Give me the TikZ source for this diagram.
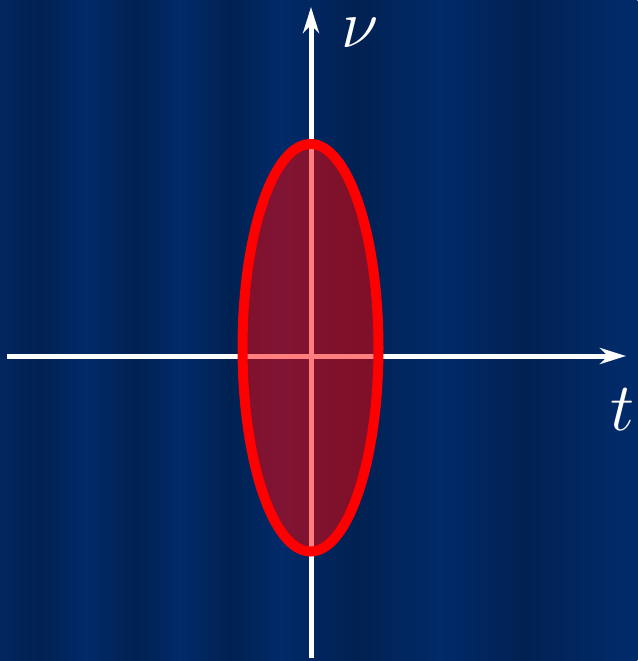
\RequirePackage{fix-cm}
\documentclass[tikz,border=0pt]{standalone}
\usetikzlibrary{arrows.meta}
\definecolor{bglight}{HTML}{012A69}
\definecolor{bgdark}{HTML}{012152}
\definecolor{bgmid}{HTML}{01265F}
\begin{document}
\begin{tikzpicture}[x=1pt,y=-1pt,
  axis/.style={white, line width=5pt, -{Stealth[length=26pt,width=16pt,inset=8pt]}},
  lbl/.style={white, inner sep=0pt, font=\fontsize{68}{80}\selectfont}]
\useasboundingbox (0,0) rectangle (637,661);
\fill[bgmid] (0,0) rectangle (637,661);
\foreach \xa/\ca/\xb/\cb in {0/bgmid/40/bgdark, 40/bgdark/85/bglight, 85/bglight/135/bgdark,
  135/bgdark/180/bglight, 180/bglight/230/bgdark, 230/bgdark/280/bglight,
  280/bglight/357/bgdark, 357/bgdark/440/bglight, 440/bglight/525/bgdark,
  525/bgdark/620/bglight, 620/bglight/637/bglight}
  \shade[left color=\ca, right color=\cb] (\xa-0.3,0) rectangle (\xb+0.3,661);
\coordinate (xs) at (7,356);
\coordinate (xe) at (626,356);
\coordinate (ys) at (311,658);
\coordinate (ye) at (311,7);
\draw[axis] (xs) -- (xe);
\draw[axis] (ys) -- (ye);
\node[lbl] (nu) at (360,33) {$\nu$};
\node[lbl] (t) at (623,410) {$t$};
\draw[red, line width=10pt, fill=red, fill opacity=0.5] (310.5,347.75) ellipse [x radius=68pt, y radius=203.75pt];
\end{tikzpicture}
\end{document}
